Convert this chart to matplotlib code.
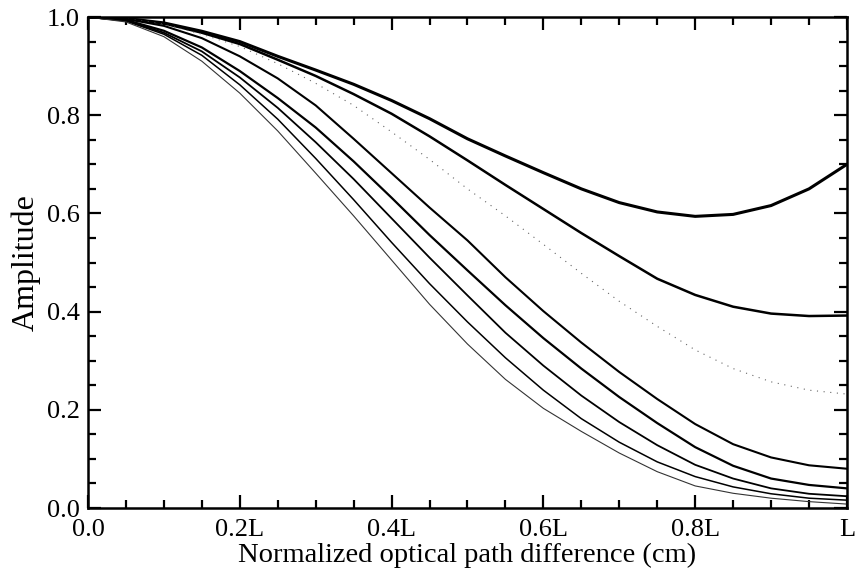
import matplotlib
matplotlib.use("Agg")
import matplotlib.pyplot as plt
from matplotlib.ticker import MultipleLocator, FixedLocator

# Normalized optical path difference (fraction of maximum path L)
opd = [0.00, 0.05, 0.10, 0.15, 0.20, 0.25, 0.30, 0.35, 0.40, 0.45, 0.50,
       0.55, 0.60, 0.65, 0.70, 0.75, 0.80, 0.85, 0.90, 0.95, 1.00]

# Amplitude curves, from the widest to the narrowest
amp_1 = [1.000, 0.997, 0.988, 0.971, 0.950, 0.920, 0.892, 0.863, 0.830, 0.793, 0.752,
         0.717, 0.683, 0.650, 0.622, 0.603, 0.594, 0.598, 0.616, 0.650, 0.700]
amp_2 = [1.000, 0.997, 0.987, 0.968, 0.945, 0.913, 0.880, 0.843, 0.803, 0.757, 0.708,
         0.658, 0.609, 0.560, 0.513, 0.467, 0.434, 0.410, 0.396, 0.391, 0.392]
amp_3 = [1.000, 0.997, 0.985, 0.965, 0.940, 0.905, 0.865, 0.820, 0.766, 0.710, 0.650,
         0.595, 0.537, 0.478, 0.421, 0.370, 0.322, 0.284, 0.257, 0.240, 0.232]
amp_4 = [1.000, 0.996, 0.982, 0.957, 0.920, 0.875, 0.820, 0.752, 0.682, 0.612, 0.545,
         0.470, 0.401, 0.337, 0.277, 0.222, 0.171, 0.130, 0.103, 0.087, 0.080]
amp_5 = [1.000, 0.994, 0.972, 0.938, 0.890, 0.835, 0.775, 0.706, 0.632, 0.556, 0.484,
         0.413, 0.346, 0.284, 0.226, 0.173, 0.124, 0.086, 0.060, 0.047, 0.040]
amp_6 = [1.000, 0.993, 0.968, 0.930, 0.877, 0.815, 0.745, 0.670, 0.590, 0.510, 0.433,
         0.357, 0.290, 0.229, 0.175, 0.128, 0.088, 0.060, 0.040, 0.029, 0.024]
amp_7 = [1.000, 0.992, 0.965, 0.922, 0.862, 0.792, 0.712, 0.628, 0.541, 0.457, 0.379,
         0.306, 0.240, 0.182, 0.134, 0.094, 0.064, 0.043, 0.029, 0.020, 0.016]
amp_8 = [1.000, 0.990, 0.960, 0.910, 0.845, 0.768, 0.682, 0.595, 0.505, 0.415, 0.334,
         0.262, 0.203, 0.156, 0.112, 0.074, 0.045, 0.030, 0.020, 0.013, 0.008]

x_tick_values = [0.0, 0.2, 0.4, 0.6, 0.8, 1.0]
x_tick_labels = ["0.0", "0.2L", "0.4L", "0.6L", "0.8L", "L"]
y_tick_values = [0.0, 0.2, 0.4, 0.6, 0.8, 1.0]
y_tick_labels = ["0.0", "0.2", "0.4", "0.6", "0.8", "1.0"]

plt.rcParams["font.family"] = ["Liberation Serif", "DejaVu Serif"]

fig = plt.figure(figsize=(8.55, 5.75), dpi=100)
ax = fig.add_axes([0.1029, 0.1165, 0.8877, 0.8539])

styles = [
    (amp_1, dict(lw=2.2, color="black", ls="-")),
    (amp_2, dict(lw=1.8, color="black", ls="-")),
    (amp_3, dict(lw=0.8, color="#666666", ls=(0, (1, 5)))),
    (amp_4, dict(lw=1.5, color="black", ls="-")),
    (amp_5, dict(lw=1.6, color="black", ls="-")),
    (amp_6, dict(lw=1.3, color="black", ls="-")),
    (amp_7, dict(lw=1.1, color="black", ls="-")),
    (amp_8, dict(lw=0.8, color="#333333", ls="-")),
]
for values, kw in styles:
    ax.plot(opd, values, solid_capstyle="round", **kw)

ax.set_xlim(0, 1)
ax.set_ylim(0, 1)

ax.xaxis.set_major_locator(FixedLocator(x_tick_values))
ax.set_xticklabels(x_tick_labels)
ax.yaxis.set_major_locator(FixedLocator(y_tick_values))
ax.set_yticklabels(y_tick_labels)
ax.xaxis.set_minor_locator(MultipleLocator(0.05))
ax.yaxis.set_minor_locator(MultipleLocator(0.05))

ax.tick_params(which="both", direction="in", top=True, right=True,
               width=1.6, labelsize=19, colors="black")
ax.tick_params(which="major", length=9.5, pad=6)
ax.tick_params(axis="x", which="major", pad=8)
ax.tick_params(which="minor", length=5.5)
for side in ax.spines.values():
    side.set_linewidth(1.8)

ax.set_xlabel("Normalized optical path difference (cm)", fontsize=20.5, labelpad=1)
ax.set_ylabel("Amplitude", fontsize=23, labelpad=4)

fig.savefig("out.png", dpi=100)
